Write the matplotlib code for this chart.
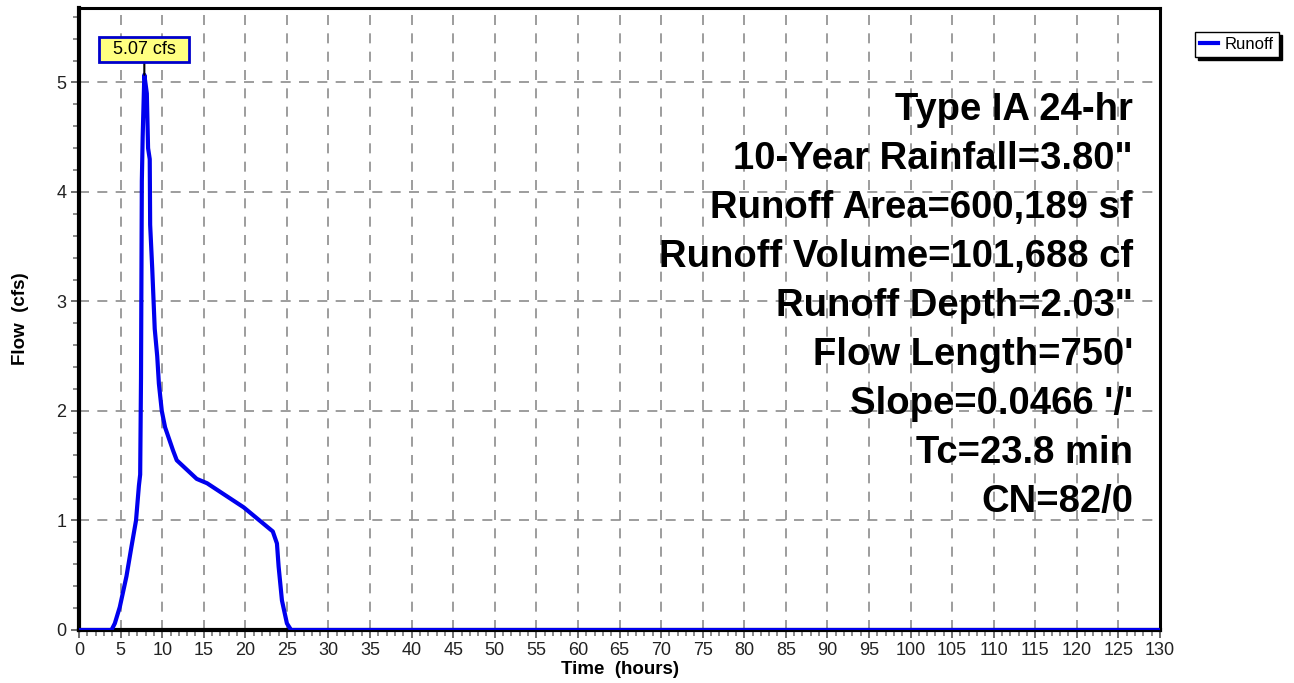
import matplotlib.pyplot as plt
from matplotlib.ticker import MultipleLocator

plt.rcParams['font.family'] = ['Liberation Sans', 'DejaVu Sans']

# hydrograph
time_hours = [0.0, 3.9, 4.3, 4.9, 5.7, 6.3, 6.85, 7.2, 7.35, 7.45, 7.55, 7.65, 7.85,
              8.15, 8.3, 8.5, 8.55, 8.8, 9.1, 9.4, 9.6, 9.95, 10.35, 11.3, 11.75,
              14.15, 15.4, 19.8, 23.3, 23.8, 24.0, 24.4, 25.0, 25.5, 130.0]
flow_cfs = [0.0, 0.0, 0.06, 0.21, 0.49, 0.76, 1.0, 1.32, 1.42, 2.3, 4.1, 4.5, 5.07,
            4.9, 4.4, 4.3, 3.7, 3.3, 2.75, 2.5, 2.25, 2.0, 1.85, 1.64, 1.55,
            1.38, 1.34, 1.12, 0.9, 0.79, 0.58, 0.27, 0.06, 0.0, 0.0]

info_lines = ['Type IA 24-hr', '10-Year Rainfall=3.80"', 'Runoff Area=600,189 sf',
              'Runoff Volume=101,688 cf', 'Runoff Depth=2.03"', "Flow Length=750'",
              "Slope=0.0466 '/'", 'Tc=23.8 min', 'CN=82/0']

fig = plt.figure(figsize=(12.94, 6.83), dpi=100, facecolor='w')
ax = fig.add_axes([0.0611, 0.0776, 0.8353, 0.9107])

ax.plot(time_hours, flow_cfs, color='#0000ee', linewidth=3, label='Runoff', zorder=5)

ax.set_xlim(0, 130)
ax.set_ylim(0, 5.68)
ax.xaxis.set_major_locator(MultipleLocator(5))
ax.xaxis.set_minor_locator(MultipleLocator(1))
ax.yaxis.set_major_locator(MultipleLocator(1))
ax.yaxis.set_minor_locator(MultipleLocator(0.2))
ax.tick_params(which='major', length=6, width=1.2, color='#555555', labelsize=13,
               labelcolor='#222222', pad=3)
ax.tick_params(which='minor', length=4, width=1.2, color='#777777')
ax.grid(True, which='major', linestyle=(0, (6, 5)), color='#8c8c8c', linewidth=1.2)

for side in ['left', 'bottom']:
    ax.spines[side].set_linewidth(3)
for side in ['top', 'right']:
    ax.spines[side].set_linewidth(2.2)

ax.set_xlabel('Time  (hours)', fontsize=13.5, fontweight='bold', labelpad=1)
ax.set_ylabel('Flow  (cfs)', fontsize=13.5, fontweight='bold', labelpad=20)

# peak label
peak_i = flow_cfs.index(max(flow_cfs))
px, py = time_hours[peak_i], flow_cfs[peak_i]
ax.annotate(f'  {py:.2f} cfs  ', xy=(px, py), xytext=(px, py + 0.23),
            ha='center', va='center', fontsize=13,
            bbox=dict(boxstyle='square,pad=0.2', fc='#ffff80', ec='#0000cc', lw=2),
            arrowprops=dict(arrowstyle='-', color='black', lw=1.5, shrinkA=0, shrinkB=0),
            zorder=6)

# info text block
for i, line in enumerate(info_lines):
    ybase = 120 + 49 * i
    ax.text(0.975, (630 - ybase) / 622, line, transform=ax.transAxes,
            ha='right', va='baseline', fontsize=27.5, fontweight='bold', zorder=7)

fig.legend(loc='upper left', bbox_to_anchor=(1195 / 1294, 1 - 32 / 683),
           fontsize=12, frameon=True, fancybox=False, edgecolor='black',
           shadow={'color': 'black', 'alpha': 1}, handlelength=1.1,
           handletextpad=0.4, borderpad=0.3, borderaxespad=0)

fig.savefig('out.png', dpi=100)
